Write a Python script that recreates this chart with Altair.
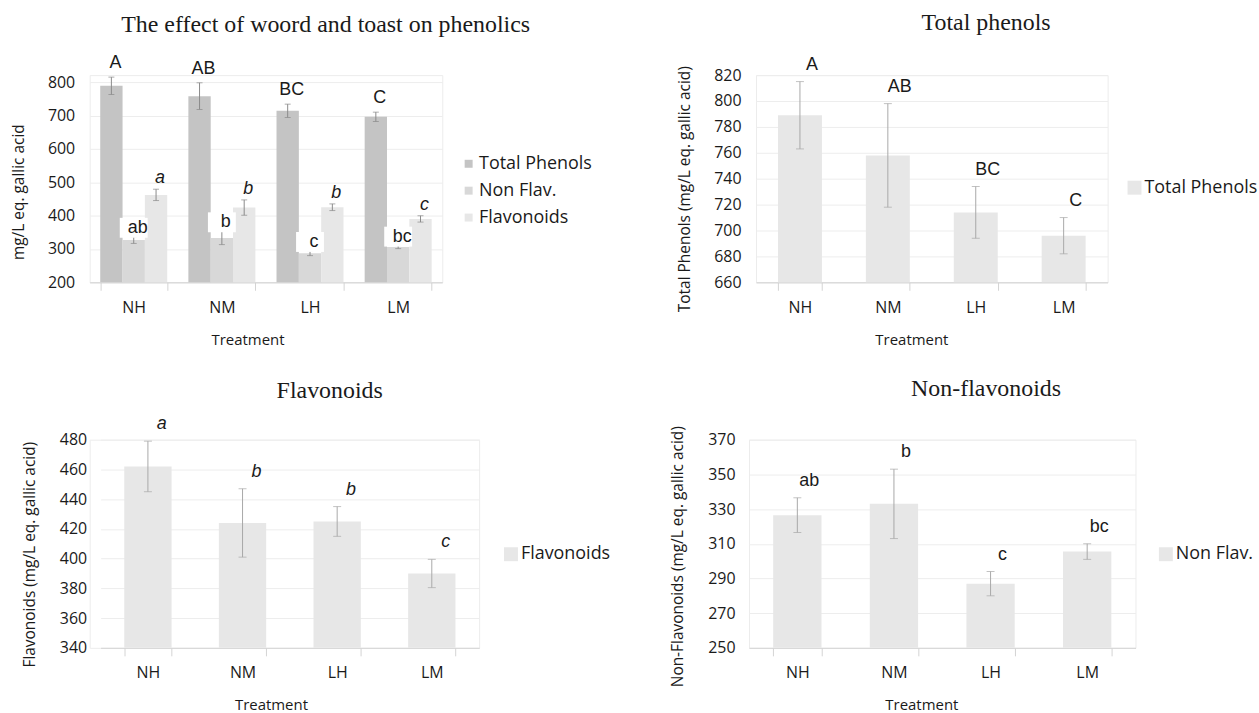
import altair as alt
import pandas as pd

# ---- measurements (mg/L gallic acid equivalents) ----------------------
treatments = ["NH", "NM", "LH", "LM"]

total_phenols = [789, 758, 714, 696]
total_phenols_sd = [26, 40, 20, 14]
total_phenols_letters = ["A", "AB", "BC", "C"]

non_flav = [326.5, 333, 287, 305.5]
non_flav_sd = [10, 20, 7, 4.5]
non_flav_letters = ["ab", "b", "c", "bc"]

flavonoids = [462, 424, 425, 390]
flavonoids_sd = [17, 23, 10, 9.5]
flavonoids_letters = ["a", "b", "b", "c"]

series_names = ["Total Phenols", "Non Flav.", "Flavonoids"]
series_colors = ["#c4c4c4", "#d8d8d8", "#e7e7e7"]
single_color = "#e7e7e7"

combined_ticks = [200, 300, 400, 500, 600, 700, 800]
phenol_ticks = [660, 680, 700, 720, 740, 760, 780, 800, 820]
flav_ticks = [340, 360, 380, 400, 420, 440, 460, 480]
nonflav_ticks = [250, 270, 290, 310, 330, 350, 370]

# ---- styling ------------------------------------------------------------
AXIS_FONT = "Open Sans"
LETTER_FONT = "Liberation Sans"
TITLE_FONT = "Liberation Serif"
INK = "#1a1a1a"
GRID = "#ededed"
RULE = "#d4d4d4"
ERR_DARK = "#8a8a8a"
ERR_LIGHT = "#a8a8a8"
BOX = "M-1.4,-1H1.4V1H-1.4Z"


def measure_frame(series, values, sds, letters):
    return pd.DataFrame({
        "Treatment": treatments,
        "series": series,
        "value": values,
        "lo": [v - s for v, s in zip(values, sds)],
        "hi": [v + s for v, s in zip(values, sds)],
        "letter": letters,
    })


def x_axis(title_x):
    return alt.Axis(
        title="Treatment", titleX=title_x, titleY=62, titleAlign="center",
        titleBaseline="alphabetic", titleFont=AXIS_FONT, titleFontSize=15,
        titleFontWeight="normal", titleColor=INK,
        labelFont=AXIS_FONT, labelFontSize=16, labelColor=INK, labelAngle=0,
        labelPadding=9, tickBand="extent", tickSize=8, tickColor=RULE,
        domainColor=RULE, grid=False)


def y_axis(title, values, title_x, title_y, label_pad):
    return alt.Axis(
        title=title, values=values, titleX=title_x, titleY=title_y,
        titleAngle=270, titleAlign="center", titleBaseline="alphabetic",
        titleFont=AXIS_FONT, titleFontSize=15.5, titleFontWeight="normal",
        titleColor=INK, labelFont=AXIS_FONT, labelFontSize=16,
        labelColor=INK, labelPadding=label_pad, ticks=False, domain=False,
        grid=True, gridColor=GRID)


def legend(x, y, symbol_size, label_offset):
    return alt.Legend(
        title=None, orient="none", legendX=x, legendY=y, symbolType="square",
        symbolSize=symbol_size, symbolStrokeWidth=0, labelFont=AXIS_FONT,
        labelFontSize=18, labelColor=INK, rowPadding=9,
        labelOffset=label_offset, padding=0)


def title_mark(text, x, y):
    # panel heading, set as a text mark above the plot area
    return alt.Chart(pd.DataFrame({"heading": [text]})).mark_text(
        font=TITLE_FONT, fontSize=24, color=INK, align="center",
        baseline="alphabetic").encode(
        x=alt.value(x), y=alt.value(y), text="heading:N")


# ---- combined panel -------------------------------------------------------
combined = pd.concat([
    measure_frame(series_names[0], total_phenols, total_phenols_sd, total_phenols_letters),
    measure_frame(series_names[1], non_flav, non_flav_sd, non_flav_letters),
    measure_frame(series_names[2], flavonoids, flavonoids_sd, flavonoids_letters),
], ignore_index=True)

tl_scale = alt.Scale(domain=[200, 821], nice=False, zero=False)
tl_axis = y_axis("mg/L eq. gallic acid", combined_ticks, -66, 117, 15)


def tl_y(field):
    return alt.Y(field, scale=tl_scale, axis=tl_axis)


tl_base = alt.Chart(combined).encode(
    x=alt.X("Treatment:N", sort=treatments,
            scale=alt.Scale(paddingInner=0.24, paddingOuter=0.12),
            axis=x_axis(158.5)),
    xOffset=alt.XOffset("series:N", sort=series_names,
                        scale=alt.Scale(domain=series_names)),
)
tl_bars = tl_base.mark_bar(clip=True).encode(
    y=tl_y("value:Q"),
    color=alt.Color("series:N", sort=series_names,
                    scale=alt.Scale(domain=series_names, range=series_colors),
                    legend=legend(371.5, 80, 64, 1.5)),
)
tl_err = tl_base.mark_rule(color=ERR_DARK, strokeWidth=1).encode(
    y=tl_y("lo:Q"), y2="hi:Q")
tl_caps = tl_base.transform_fold(["lo", "hi"], as_=["end", "pos"]).mark_tick(
    color=ERR_DARK, thickness=1, size=6).encode(y=tl_y("pos:Q"))
tl_tp_lab = tl_base.transform_filter(alt.datum.series == series_names[0]).mark_text(
    dx=4, dy=-14, font=LETTER_FONT, fontSize=18, color=INK, baseline="middle").encode(
    y=tl_y("hi:Q"), text="letter:N")
tl_nf_box = tl_base.transform_filter(alt.datum.series == series_names[1]).mark_point(
    shape=BOX, size=400, filled=True, color="white", opacity=1, strokeWidth=0,
    yOffset=-9).encode(y=tl_y("hi:Q"))
tl_nf_lab = tl_base.transform_filter(alt.datum.series == series_names[1]).mark_text(
    dx=4, dy=-9, font=LETTER_FONT, fontSize=18, color=INK, baseline="middle").encode(
    y=tl_y("hi:Q"), text="letter:N")
tl_fl_lab = tl_base.transform_filter(alt.datum.series == series_names[2]).mark_text(
    dx=4, dy=-11, font=LETTER_FONT, fontSize=18, fontStyle="italic", color=INK,
    baseline="middle").encode(y=tl_y("hi:Q"), text="letter:N")

top_left = alt.layer(
    tl_bars, tl_err, tl_caps, tl_tp_lab, tl_nf_box, tl_nf_lab, tl_fl_lab,
    title_mark("The effect of woord and toast on phenolics", 237, -43),
).properties(width=354, height=208)


# ---- single-measure panels ------------------------------------------------
def single_panel(df, title, title_x, title_y, y_title, y_title_x,
                 y_title_y, domain, ticks, width, height, x_range, x_title_x,
                 label_pad, legend_x, legend_y, label_dx, italic):
    y_scale = alt.Scale(domain=domain, nice=False, zero=False)
    axis = y_axis(y_title, ticks, y_title_x, y_title_y, label_pad)
    if x_range is not None:
        x_scale = alt.Scale(paddingInner=0.5, paddingOuter=0.25, range=x_range)
    else:
        x_scale = alt.Scale(paddingInner=0.5, paddingOuter=0.25)

    def y_enc(field):
        return alt.Y(field, scale=y_scale, axis=axis)

    base = alt.Chart(df).encode(
        x=alt.X("Treatment:N", sort=treatments, scale=x_scale,
                axis=x_axis(x_title_x)))
    bars = base.mark_bar(clip=True).encode(
        y=y_enc("value:Q"),
        color=alt.Color("series:N",
                        scale=alt.Scale(range=[single_color]),
                        legend=legend(legend_x, legend_y, 196, 1)),
    )
    err = base.mark_rule(color=ERR_LIGHT, strokeWidth=1).encode(
        y=y_enc("lo:Q"), y2="hi:Q")
    caps = base.transform_fold(["lo", "hi"], as_=["end", "pos"]).mark_tick(
        color=ERR_LIGHT, thickness=1, size=8).encode(y=y_enc("pos:Q"))
    labels = base.mark_text(
        dx=label_dx, dy=-17, font=LETTER_FONT, fontSize=18, color=INK,
        baseline="middle", fontStyle="italic" if italic else "normal").encode(
        y=y_enc("hi:Q"), text="letter:N")
    return alt.layer(
        bars, err, caps, labels, title_mark(title, title_x, title_y)
    ).properties(width=width, height=height)


top_right = single_panel(
    measure_frame("Total Phenols", total_phenols, total_phenols_sd, total_phenols_letters),
    "Total phenols", 231, -45,
    "Total Phenols (mg/L eq. gallic acid)", -67, 114,
    [660, 820], phenol_ticks, 353, 208, None, 156, 15, 371, 104, 12, False)

bottom_left = single_panel(
    measure_frame("Flavonoids", flavonoids, flavonoids_sd, flavonoids_letters),
    "Flavonoids", 241, -42,
    "Flavonoids (mg/L eq. gallic acid)", -55, 115,
    [340, 480], flav_ticks, 391, 209, [11, 391], 182, 3, 414, 106, 14, True)

bottom_right = single_panel(
    measure_frame("Non Flav.", non_flav, non_flav_sd, non_flav_letters),
    "Non-flavonoids", 238, -44,
    "Non-Flavonoids (mg/L eq. gallic acid)", -67, 117,
    [250, 370], nonflav_ticks, 388, 209, None, 173, 14, 409.5, 106, 12, False)

top_row = alt.hconcat(
    top_left, top_right, spacing=315, bounds="flush"
).resolve_scale(color="independent")
bottom_row = alt.hconcat(
    bottom_left, bottom_right, spacing=271, bounds="flush"
).resolve_scale(color="independent")

# nested rows count as zero height under flush bounds, so the spacing is
# the distance from one row's plot top to the next
chart = alt.vconcat(
    top_row, bottom_row, spacing=366, bounds="flush"
).resolve_scale(color="independent").configure_view(
    stroke="#ececec"
).properties(
    padding={"left": 11, "top": 9, "right": 0, "bottom": 0},
    background="white",
)

chart.save("out.html", embed_options={"renderer": "svg", "actions": False})
